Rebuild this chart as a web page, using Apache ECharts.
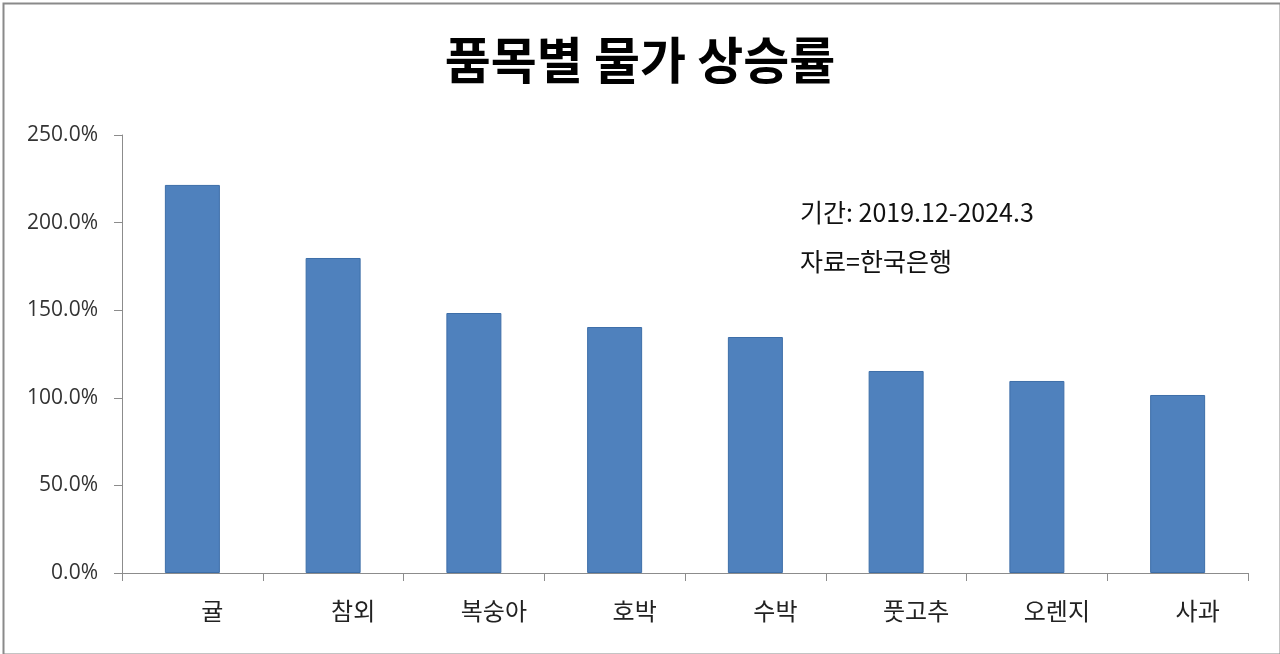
<!DOCTYPE html>
<html>
<head>
<meta charset="utf-8">
<script src="https://cdn.jsdelivr.net/npm/echarts@6/dist/echarts.min.js"></script>
<style>
html,body{margin:0;padding:0;background:#fff;}
#c{width:1280px;height:654px;}
</style>
</head>
<body>
<div id="c"></div>
<script>
const categories = ['귤','참외','복숭아','호박','수박','풋고추','오렌지','사과'];
const values = [221.5, 179.8, 148.4, 140.4, 134.7, 115.3, 109.6, 101.6];
const yTicks = [0, 50, 100, 150, 200, 250];
const titleText = '품목별 물가 상승률';
const noteLines = ['기간: 2019.12-2024.3', '자료=한국은행'];

const chart = echarts.init(document.getElementById('c'));
const font = '"Noto Sans CJK KR", "Noto Sans", sans-serif';
chart.setOption({
  backgroundColor: '#fff',
  animation: false,
  title: {
    text: titleText,
    left: 'center',
    top: 30,
    textStyle: { fontFamily: font, fontSize: 50, fontWeight: 'bold', color: '#000' }
  },
  grid: { left: 122, right: 32, top: 135, bottom: 81, containLabel: false },
  xAxis: {
    type: 'category',
    data: categories,
    axisLine: { lineStyle: { color: '#8c8c8c', width: 1 } },
    axisTick: { show: true, alignWithLabel: false, length: 8, lineStyle: { color: '#8c8c8c' } },
    axisLabel: { fontFamily: font, fontSize: 24, color: '#222', margin: 26, padding: [0, 0, 0, 40] },
    splitLine: { show: false }
  },
  yAxis: {
    type: 'value',
    min: yTicks[0],
    max: yTicks[yTicks.length - 1],
    interval: 50,
    axisLine: { show: true, lineStyle: { color: '#8c8c8c', width: 1 } },
    axisTick: { show: true, length: 8, lineStyle: { color: '#8c8c8c' } },
    axisLabel: {
      fontFamily: '"Open Sans", "Noto Sans", sans-serif', fontSize: 21, color: '#333', margin: 24,
      formatter: v => v.toFixed(1) + '%'
    },
    splitLine: { show: false }
  },
  series: [{
    type: 'bar',
    data: values,
    barWidth: 55,
    itemStyle: { color: '#4F81BD', borderColor: '#3d6ea8', borderWidth: 1 }
  }],
  graphic: [
    { type: 'rect', left: 1, top: 1, shape: { width: 1277, height: 651 }, style: { fill: 'none', stroke: '#8a8a8a', lineWidth: 2 } },
    { type: 'text', left: 800, top: 200, style: { text: noteLines[0], font: '25px "Noto Sans CJK KR", sans-serif', fill: '#111' } },
    { type: 'text', left: 800, top: 249, style: { text: noteLines[1], font: '25px "Noto Sans CJK KR", sans-serif', fill: '#111' } }
  ]
});
</script>
</body>
</html>
